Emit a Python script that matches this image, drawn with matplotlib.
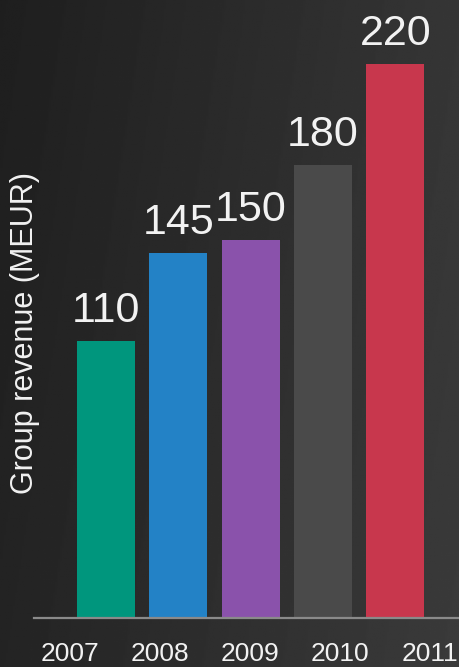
import numpy as np
import matplotlib
matplotlib.use('Agg')
import matplotlib.pyplot as plt

anni = ['2007', '2008', '2009', '2010', '2011']
ricavi = [110, 145, 150, 180, 220]
colori = ['#00967d', '#2382c6', '#8a52ab', '#4a4a4a', '#c8374d']

plt.rcParams['font.family'] = ['Liberation Sans', 'DejaVu Sans']

fig = plt.figure(figsize=(4.6, 6.67), dpi=100)

# sfondo sfumato scuro
bg = fig.add_axes([0, 0, 1, 1])
gx = np.linspace(0, 1, 256)
gy = np.linspace(0, 1, 256)
X, Y = np.meshgrid(gx, gy)
grad = 0.12 + 0.09 * X + 0.02 * (1 - Y)
bg.imshow(grad, cmap='gray', vmin=0, vmax=1, aspect='auto', extent=[0, 1, 0, 1], origin='lower')
bg.axis('off')

ax = fig.add_axes([34 / 460, 49 / 667, 426 / 460, 618 / 667])
ax.patch.set_alpha(0)

x = np.arange(len(anni))
barre = ax.bar(x, ricavi, width=0.80, color=colori)

for xi, v in zip(x, ricavi):
    ax.text(xi, v + 7.5, str(v), ha='center', va='baseline', color='#f2f2f2', fontsize=31)

ax.set_xlim(-0.996, 4.896)
ax.set_ylim(0, 245.4)

# etichette anni distribuite uniformemente
ax.set_xticks(-0.498 + 1.245 * x)
ax.set_xticklabels(anni, fontsize=19, color='#f2f2f2')
ax.tick_params(axis='x', length=0, pad=17)
ax.set_yticks([])

for lato in ['top', 'right', 'left']:
    ax.spines[lato].set_visible(False)
ax.spines['bottom'].set_color('#8a8a8a')
ax.spines['bottom'].set_linewidth(1.6)

fig.text(25 / 460, 1 - 333 / 667, 'Group revenue (MEUR)', rotation=90,
         ha='center', va='center', color='#f2f2f2', fontsize=22)

fig.savefig('out.png', dpi=100)
